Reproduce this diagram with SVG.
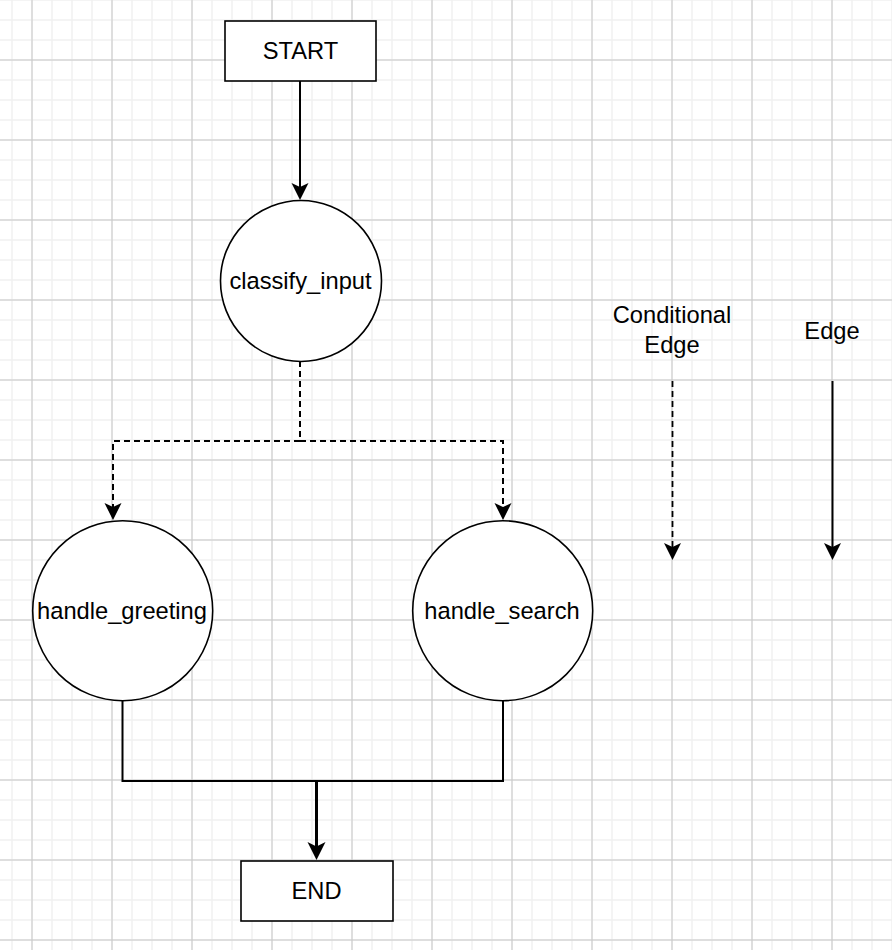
<svg xmlns="http://www.w3.org/2000/svg" width="892" height="950" viewBox="0 0 892 950">
  <style>
    .node { fill: #ffffff; stroke: #000000; stroke-width: 1.6; }
    .label { font-family: "Liberation Sans", Arial, Helvetica, sans-serif; font-size: 23.7px; fill: #000000; text-anchor: middle; }
    .edge { fill: none; stroke: #000000; stroke-width: 2; }
    .dashed { stroke-dasharray: 6 4; }
  </style>
  <defs>
    <pattern id="minor" x="2" y="-10" width="20" height="20" patternUnits="userSpaceOnUse">
      <path d="M10,0 V20 M0,10 H20" fill="none" stroke="#f1f1f1" stroke-width="1.5"/>
    </pattern>
    <pattern id="major" x="-8" y="20" width="80" height="80" patternUnits="userSpaceOnUse">
      <path d="M40,0 V80 M0,40 H80" fill="none" stroke="#c8c8c8" stroke-width="1"/>
    </pattern>
    <marker id="arrow" markerUnits="userSpaceOnUse" viewBox="-1 -10 20 20" markerWidth="20" markerHeight="20" refX="11" refY="0" orient="auto">
      <path d="M0,-8.5 L17,0 L0,8.5 L4,0 Z" fill="#000000" stroke="none"/>
    </marker>
    <marker id="arrowL" markerUnits="userSpaceOnUse" viewBox="-1 -10 20 20" markerWidth="20" markerHeight="20" refX="12" refY="0" orient="auto">
      <path d="M0,-9 L18,0 L0,9 L4.5,0 Z" fill="#000000" stroke="none"/>
    </marker>
  </defs>

  <rect width="892" height="950" fill="#ffffff"/>
  <rect width="892" height="950" fill="url(#minor)"/>
  <rect width="892" height="950" fill="url(#major)"/>

  <g id="connectors">
    <path class="edge" d="M300,81 V194" marker-end="url(#arrow)"/>
    <path class="edge dashed" d="M300,361 V441 H113 V514" marker-end="url(#arrow)"/>
    <path class="edge dashed" d="M300,441 H503 V514" marker-end="url(#arrow)"/>
    <path class="edge" d="M122.5,700 V781 H503 V700"/>
    <path class="edge" style="stroke-width:3" d="M316.5,781 V854" marker-end="url(#arrowL)"/>
  </g>

  <g id="START">
    <rect class="node" x="225" y="21" width="151" height="60"/>
    <text class="label" x="300.5" y="59">START</text>
  </g>

  <g id="classify_input">
    <circle class="node" cx="301" cy="281" r="80.5"/>
    <text class="label" x="300.5" y="289">classify_input</text>
  </g>

  <g id="handle_greeting">
    <circle class="node" cx="122.7" cy="610.7" r="90"/>
    <text class="label" x="122" y="619">handle_greeting</text>
  </g>

  <g id="handle_search">
    <circle class="node" cx="502.7" cy="610.7" r="90"/>
    <text class="label" x="502" y="619">handle_search</text>
  </g>

  <g id="END">
    <rect class="node" x="241" y="861" width="152" height="60"/>
    <text class="label" x="316.5" y="898.5">END</text>
  </g>

  <g id="legend">
    <text class="label" x="672" y="323">Conditional</text>
    <text class="label" x="672" y="353">Edge</text>
    <path class="edge dashed" style="stroke-width:1.8" d="M672.5,381 V554" marker-end="url(#arrow)"/>
    <text class="label" x="832" y="339">Edge</text>
    <path class="edge" d="M832.5,381 V554" marker-end="url(#arrow)"/>
  </g>
</svg>
